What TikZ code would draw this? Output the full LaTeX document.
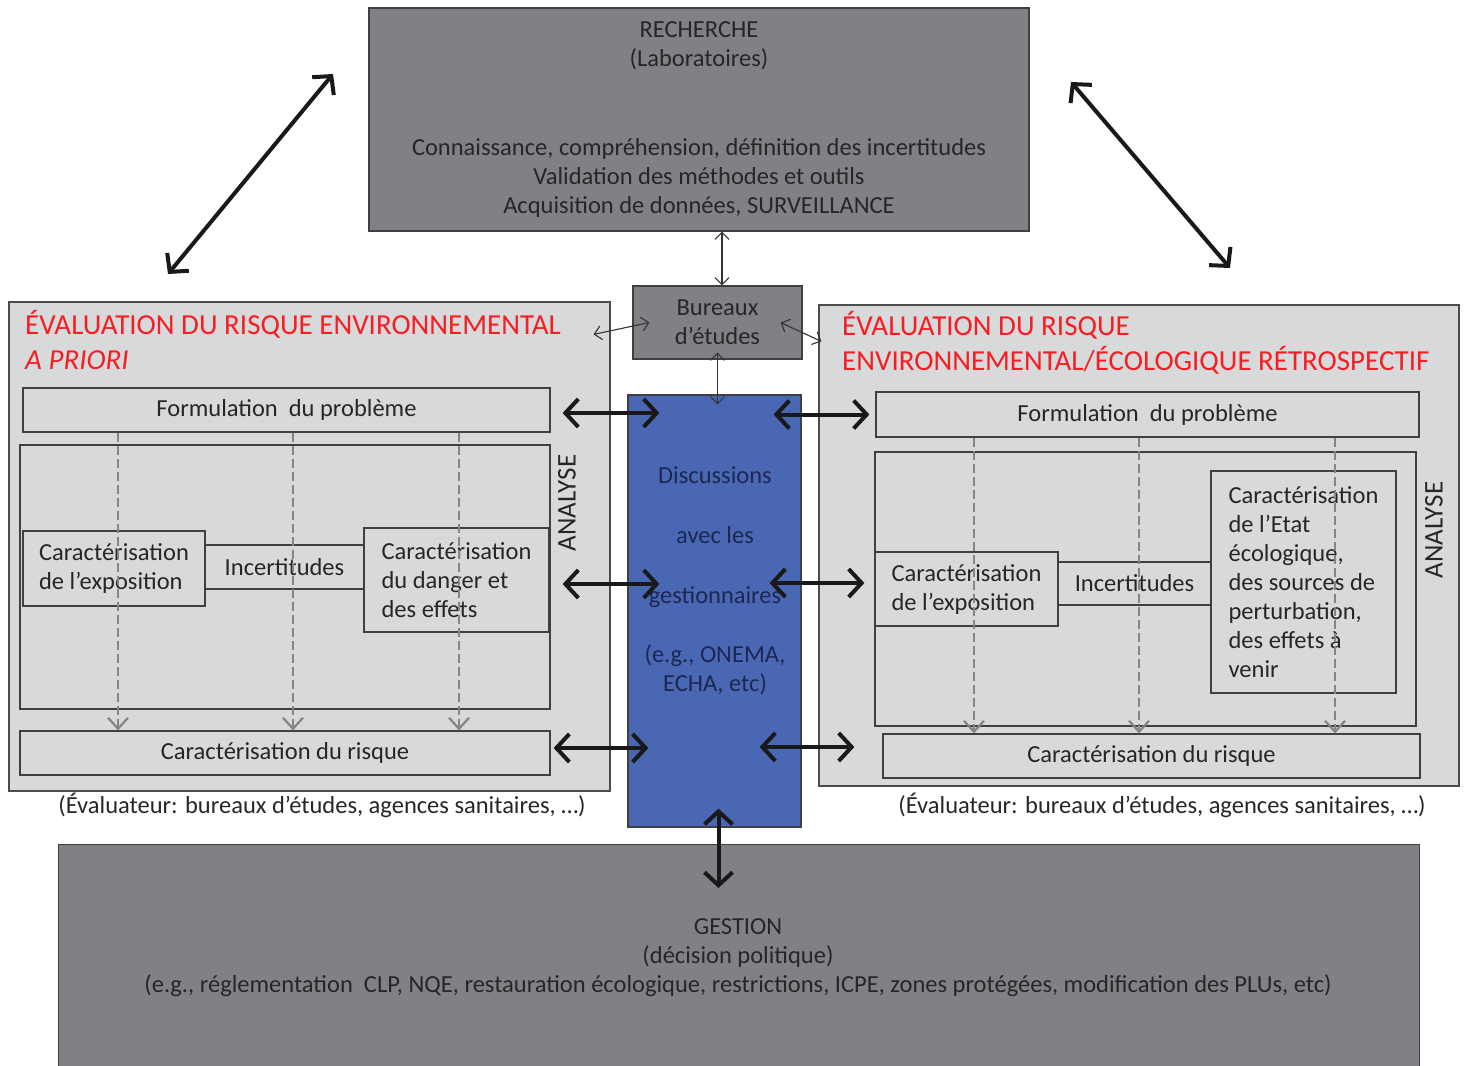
\documentclass[tikz,border=0pt]{standalone}
\usepackage{fontspec}
\setmainfont{Carlito}
\usetikzlibrary{arrows.meta,positioning,calc}

\definecolor{panelgray}{RGB}{216,217,219}
\definecolor{darkfill}{RGB}{128,129,133}
\definecolor{discblue}{RGB}{74,103,180}
\definecolor{navytext}{RGB}{28,40,82}
\definecolor{titlered}{RGB}{245,30,35}
\definecolor{inktext}{RGB}{38,38,38}

\begin{document}
\begin{tikzpicture}[x=1pt, y=-1pt,
    font=\fontsize{24.5}{29}\selectfont,
    frame/.style = {draw=black!70, fill=panelgray, line width=1.2pt},
    dark/.style = {draw=black!75, fill=darkfill, line width=1.2pt, text=inktext, align=center},
    stepbox/.style = {draw=black!75, line width=1.2pt, text=inktext, align=left},
    title/.style = {text=titlered, font=\fontsize{29}{35}\selectfont, align=left, anchor=north west, inner sep=0pt},
    note/.style = {text=inktext},
    big/.style = {<->, line width=4pt, draw=black!90, >={Straight Barb[length=13pt, width=28pt]}},
    slim/.style = {<->, line width=1.1pt, draw=black!80, >={Straight Barb[length=7pt, width=14pt]}},
    flow/.style = {->, draw=black!48, line width=2.2pt, dash pattern=on 9pt off 4pt, >={Straight Barb[length=11pt, width=20pt]}}]

    \useasboundingbox (0,0) rectangle (1469,1065);

    \node[dark, minimum width=660pt, minimum height=223pt] (recherche) at (699,119.5)
        {RECHERCHE\\(Laboratoires)\\[60pt]Connaissance, compréhension, définition des incertitudes\\Validation des méthodes et outils\\Acquisition de données, SURVEILLANCE};
    \node[dark, minimum width=169pt, minimum height=73pt] (bureaux) at (717.5,322.5) {Bureaux\\d’études};

    %--------------------------------------------

    \node[frame, minimum width=601pt, minimum height=489pt] (lframe) at (309.5,546.5) {};
    \node[title] (ltitle) at (25,310) {ÉVALUATION DU RISQUE ENVIRONNEMENTAL\\\textit{A PRIORI}};
    \node[stepbox, minimum width=527pt, minimum height=44pt] (lform) at (286.5,410) {Formulation\ \ du problème};
    \node[stepbox, minimum width=530pt, minimum height=264pt] (lana) at (285,577) {};
    \node[stepbox, minimum width=182pt, minimum height=75pt] (lexpo) at (114,568.5) {Caractérisation\\de l’exposition};
    \node[stepbox, minimum width=159pt, minimum height=44pt] (lincert) at (284.5,567) {Incertitudes};
    \node[stepbox, minimum width=185pt, minimum height=104pt] (ldanger) at (456.5,580) {Caractérisation\\du danger et\\des effets};
    \node[stepbox, minimum width=530pt, minimum height=44pt] (lrisk) at (285,753) {Caractérisation du risque};
    \node[note, rotate=90, font=\fontsize{27}{27}\selectfont] (lanalyse) at (567,503) {ANALYSE};
    \node[note] (lcaption) at (322,805) {(Évaluateur: bureaux d’études, agences sanitaires, …)};
    \foreach \x in {118,293,459}
        \draw[flow] (lform.south -| \x,0) -- (lrisk.north -| \x,0);

    %--------------------------------------------

    \node[frame, minimum width=640pt, minimum height=481pt] (rframe) at (1139,545.5) {};
    \node[title] (rtitle) at (842,311) {ÉVALUATION DU RISQUE\\ENVIRONNEMENTAL/ÉCOLOGIQUE RÉTROSPECTIF};
    \node[stepbox, minimum width=543pt, minimum height=45pt] (rform) at (1147.5,414.5) {Formulation\ \ du problème};
    \node[stepbox, minimum width=541pt, minimum height=274pt] (rana) at (1145.5,589) {};
    \node[stepbox, minimum width=183pt, minimum height=74pt] (rexpo) at (966.5,589) {Caractérisation\\de l’exposition};
    \node[stepbox, minimum width=153pt, minimum height=43pt] (rincert) at (1134.5,583.5) {Incertitudes};
    \node[stepbox, minimum width=185pt, minimum height=222pt] (retat) at (1303.5,582)
        {Caractérisation\\de l’Etat\\écologique,\\des sources de\\perturbation,\\des effets à\\venir};
    \node[stepbox, minimum width=537pt, minimum height=44pt] (rrisk) at (1151.5,756) {Caractérisation du risque};
    \node[note, rotate=90, font=\fontsize{27}{27}\selectfont] (ranalyse) at (1434,530) {ANALYSE};
    \node[note] (rcaption) at (1162,805) {(Évaluateur: bureaux d’études, agences sanitaires, …)};
    \foreach \x in {974,1139,1335}
        \draw[flow] (rform.south -| \x,0) -- (rrisk.north -| \x,0);

    %--------------------------------------------

    \node[draw=black!75, fill=discblue, line width=1.2pt, minimum width=173pt, minimum height=432pt] (disc) at (714.5,611) {};
    \node[text=navytext, align=center] (disctext) at (715,581)
        {Discussions\\[31pt]avec les\\[31pt]gestionnaires\\[30pt](e.g., ONEMA,\\ECHA, etc)};

    \node[dark, anchor=north west, minimum width=1361pt, minimum height=240pt] (gestion) at (58,844) {};
    \node[text=inktext, align=center] (gestext) at (738,958)
        {GESTION\\(décision politique)\\(e.g., réglementation\ \ CLP, NQE, restauration écologique, restrictions, ICPE, zones protégées, modification des PLUs, etc)};

    %--------------------------------------------

    \coordinate (lfoot) at (168,274);
    \coordinate (lhead) at (333,74);
    \coordinate (rhead) at (1071,82);
    \coordinate (rfoot) at (1230,268);
    \draw[big] (lfoot) -- (lhead);
    \draw[big] (rhead) -- (rfoot);

    \draw[big] ($(lform.east)+(12,3)$) -- ($(disc.west |- lform.east)+(32,3)$);
    \draw[big] ($(disc.east |- rform.west)+(-28,0)$) -- ($(rform.west)+(-6,0)$);
    \draw[big] ($(ldanger.east)+(13,4)$) -- ($(disc.west |- ldanger.east)+(32,4)$);
    \draw[big] ($(disc.east |- rexpo.west)+(-32,-6)$) -- ($(rexpo.west)+(-10,-6)$);
    \draw[big] ($(lrisk.east)+(3,-5)$) -- ($(disc.west |- lrisk.east)+(21,-5)$);
    \draw[big] ($(disc.east |- rrisk.west)+(-42,-9)$) -- ($(rrisk.west)+(-28,-9)$);
    \draw[big] ($(disc.south)+(4,-19)$) -- ($(disc.south |- gestion.north)+(4,44)$);

    \draw[slim] ([xshift=23pt]recherche.south) -- ([xshift=23pt]recherche.south |- bureaux.north);
    \draw[slim] ($(lframe.north east)+(-17,33)$) -- ($(bureaux.west)+(17,0)$);
    \draw[slim] ($(bureaux.east)+(-22,0)$) -- ($(rframe.north west)+(3,37)$);
    \draw[slim] ($(bureaux.south)+(0,-7)$) -- ($(bureaux.south |- disc.north)+(0,10)$);

\end{tikzpicture}
\end{document}
